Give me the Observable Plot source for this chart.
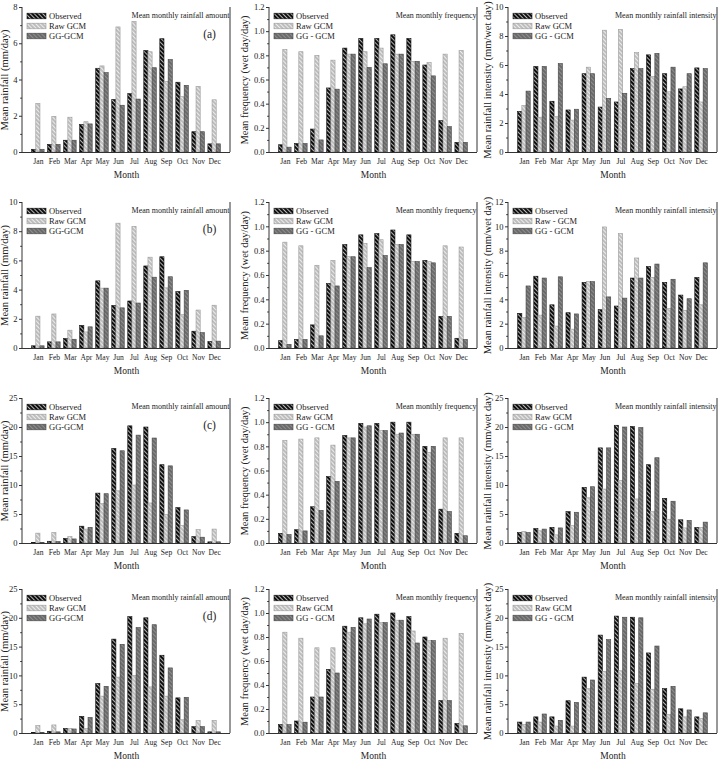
<!DOCTYPE html>
<html>
<head>
<meta charset="utf-8">
<script src="https://cdn.jsdelivr.net/npm/d3@7"></script>
<script src="https://cdn.jsdelivr.net/npm/@observablehq/plot@0.6"></script>
<style>
  body { margin: 0; background: #fff; }
  #grid { display: grid; grid-template-columns: 240px 240px 240px; width: 720px; }
  #grid svg { display: block; font-family: "Liberation Serif", "Times New Roman", serif; color: #222; }
</style>
</head>
<body>
<!-- shared hatch fills for the three series -->
<svg width="0" height="0" style="position:absolute">
  <defs>
    <pattern id="hatch-obs" width="3" height="3" patternUnits="userSpaceOnUse" patternTransform="rotate(45)">
      <rect width="3" height="3" fill="#0e0e0e"></rect>
      <rect width="3" height="1" fill="#b5b5b5"></rect>
    </pattern>
    <pattern id="hatch-raw" width="3" height="3" patternUnits="userSpaceOnUse" patternTransform="rotate(45)">
      <rect width="3" height="3" fill="#bdbdbd"></rect>
      <rect width="3" height="1" fill="#ececec"></rect>
    </pattern>
    <pattern id="hatch-gg" width="3" height="3" patternUnits="userSpaceOnUse" patternTransform="rotate(45)">
      <rect width="3" height="3" fill="#6a6a6a"></rect>
      <rect width="3" height="1" fill="#8e8e8e"></rect>
    </pattern>
  </defs>
</svg>
<div id="grid"></div>
<script>
const months = ["Jan", "Feb", "Mar", "Apr", "May", "Jun", "Jul", "Aug", "Sep", "Oct", "Nov", "Dec"];

// (a) station 1, calibration
const amountA_obs = [0.15, 0.42, 0.65, 1.52, 4.62, 2.9, 3.22, 5.6, 6.25, 3.85, 1.12, 0.45];
const amountA_raw = [2.68, 1.97, 1.92, 1.67, 4.75, 6.9, 7.2, 5.53, 3.9, 3.05, 3.62, 2.88];
const amountA_gg  = [0.15, 0.42, 0.65, 1.55, 4.38, 2.58, 2.92, 4.65, 5.1, 3.68, 1.12, 0.45];
const freqA_obs = [0.06, 0.07, 0.19, 0.53, 0.86, 0.94, 0.94, 0.97, 0.94, 0.72, 0.26, 0.08];
const freqA_raw = [0.85, 0.83, 0.80, 0.76, 0.81, 0.83, 0.86, 0.81, 0.75, 0.74, 0.81, 0.84];
const freqA_gg  = [0.04, 0.07, 0.10, 0.52, 0.81, 0.70, 0.73, 0.81, 0.75, 0.63, 0.21, 0.08];
const intenA_obs = [2.8, 5.9, 3.5, 2.9, 5.4, 3.1, 3.45, 5.75, 6.7, 5.4, 4.35, 5.8];
const intenA_raw = [3.2, 2.4, 2.45, 2.2, 5.85, 8.4, 8.45, 6.85, 5.2, 4.15, 4.5, 3.45];
const intenA_gg  = [4.2, 5.9, 6.1, 2.95, 5.4, 3.7, 4.05, 5.75, 6.8, 5.85, 5.4, 5.75];

// (b) station 1, validation
const amountB_obs = [0.15, 0.42, 0.65, 1.55, 4.6, 2.92, 3.22, 5.62, 6.25, 3.87, 1.15, 0.45];
const amountB_raw = [2.18, 2.33, 1.22, 1.1, 4.1, 8.55, 8.33, 6.22, 4.12, 2.28, 2.6, 2.93];
const amountB_gg  = [0.15, 0.42, 0.6, 1.45, 4.1, 2.75, 3.08, 4.85, 4.88, 3.95, 1.05, 0.47];
const freqB_obs = [0.06, 0.07, 0.19, 0.53, 0.85, 0.93, 0.94, 0.97, 0.93, 0.72, 0.26, 0.08];
const freqB_raw = [0.87, 0.84, 0.68, 0.72, 0.75, 0.86, 0.89, 0.85, 0.71, 0.71, 0.84, 0.83];
const freqB_gg  = [0.03, 0.07, 0.10, 0.51, 0.75, 0.66, 0.76, 0.85, 0.71, 0.70, 0.26, 0.07];
const intenB_obs = [2.85, 5.9, 3.55, 2.9, 5.4, 3.15, 3.45, 5.75, 6.7, 5.4, 4.35, 5.8];
const intenB_raw = [2.5, 2.7, 1.8, 1.55, 5.45, 9.95, 9.4, 7.4, 5.8, 3.25, 3.1, 3.55];
const intenB_gg  = [5.1, 5.75, 5.85, 2.8, 5.45, 4.2, 4.1, 5.75, 6.9, 5.65, 4.05, 7.0];

// (c) station 2, calibration
const amountC_obs = [0.1, 0.3, 0.8, 2.9, 8.6, 16.3, 20.2, 20.0, 13.5, 6.1, 1.1, 0.2];
const amountC_raw = [1.7, 1.8, 1.1, 2.4, 6.8, 9.0, 10.0, 6.9, 4.9, 3.0, 2.3, 2.4];
const amountC_gg  = [0.1, 0.25, 0.7, 2.7, 8.5, 15.9, 18.6, 18.1, 13.3, 5.7, 1.0, 0.2];
const freqC_obs = [0.08, 0.11, 0.30, 0.55, 0.89, 0.99, 0.99, 1.0, 1.0, 0.80, 0.28, 0.08];
const freqC_raw = [0.85, 0.86, 0.87, 0.81, 0.87, 0.96, 0.93, 0.90, 0.90, 0.75, 0.87, 0.87];
const freqC_gg  = [0.07, 0.10, 0.27, 0.51, 0.87, 0.97, 0.93, 0.91, 0.90, 0.80, 0.26, 0.06];
const intenC_obs = [1.8, 2.5, 2.7, 5.4, 9.6, 16.4, 20.3, 20.1, 13.5, 7.7, 4.0, 2.7];
const intenC_raw = [2.0, 2.1, 1.4, 3.0, 7.8, 9.3, 10.8, 7.6, 5.4, 4.1, 2.6, 2.7];
const intenC_gg  = [1.8, 2.4, 2.6, 5.3, 9.7, 16.4, 20.0, 19.9, 14.7, 7.2, 3.9, 3.6];

// (d) station 2, validation
const amountD_obs = [0.1, 0.3, 0.8, 2.9, 8.6, 16.3, 20.2, 20.0, 13.5, 6.1, 1.1, 0.2];
const amountD_raw = [1.3, 1.4, 0.8, 0.8, 6.4, 9.7, 10.0, 8.0, 6.4, 2.3, 2.2, 2.2];
const amountD_gg  = [0.1, 0.2, 0.7, 2.7, 8.1, 15.4, 18.3, 18.8, 11.3, 6.2, 1.1, 0.2];
const freqD_obs = [0.07, 0.10, 0.30, 0.53, 0.89, 0.96, 0.99, 1.0, 0.97, 0.80, 0.27, 0.08];
const freqD_raw = [0.84, 0.79, 0.71, 0.71, 0.84, 0.91, 0.92, 0.94, 0.85, 0.77, 0.79, 0.83];
const freqD_gg  = [0.07, 0.09, 0.30, 0.50, 0.88, 0.95, 0.92, 0.94, 0.75, 0.77, 0.27, 0.06];
const intenD_obs = [1.9, 2.8, 2.8, 5.6, 9.7, 17.0, 20.3, 20.1, 13.9, 7.7, 4.2, 2.8];
const intenD_raw = [1.5, 1.9, 1.2, 1.2, 7.7, 10.7, 10.8, 8.6, 7.6, 3.2, 2.8, 2.5];
const intenD_gg  = [1.9, 3.3, 2.2, 5.3, 9.2, 16.2, 20.1, 20.0, 15.1, 8.1, 4.0, 3.5];

// axis extents and labels
const amountMax = [8, 10, 25, 25];
const amountStep = [2, 2, 5, 5];
const intenMax = [10, 12, 25, 25];
const intenStep = [2, 2, 5, 5];
const panelTags = ["(a)", "(b)", "(c)", "(d)"];
const legendAmount = ["Observed", "Raw GCM", "GG-GCM"];
const legendFreq = ["Observed", "Raw GCM", "GG - GCM"];
const legendInten = [
  ["Observed", "Raw GCM", "GG - GCM"],
  ["Observed", "Raw - GCM", "GG - GCM"],
  ["Observed", "Raw GCM", "GG - GCM"],
  ["Observed", "Raw GCM", "GG - GCM"]
];

const series = {
  amount: [[amountA_obs, amountA_raw, amountA_gg], [amountB_obs, amountB_raw, amountB_gg], [amountC_obs, amountC_raw, amountC_gg], [amountD_obs, amountD_raw, amountD_gg]],
  freq: [[freqA_obs, freqA_raw, freqA_gg], [freqB_obs, freqB_raw, freqB_gg], [freqC_obs, freqC_raw, freqC_gg], [freqD_obs, freqD_raw, freqD_gg]],
  inten: [[intenA_obs, intenA_raw, intenA_gg], [intenB_obs, intenB_raw, intenB_gg], [intenC_obs, intenC_raw, intenC_gg], [intenD_obs, intenD_raw, intenD_gg]]
};

const fills = ["url(#hatch-obs)", "url(#hatch-raw)", "url(#hatch-gg)"];
const strokes = ["#111", "#9a9a9a", "#444"];

// layout per row and per column
const rowHeight = [195, 196, 191, 180];
const rowBottom = [43, 43, 39, 29];
const colLeft = [22, 29, 28];
const colRight = [10, 3, 3];
const colLabelDx = [-17.5, -25, -21];
const W = 240, mT = 7;
const padIn = 0.22, padOut = 0.6;

function panel({values, yMax, yStep, fmt, yLabel, title, legend, tag, height, marginBottom, col}) {
  const mL = colLeft[col], mR = colRight[col];
  const plotW = W - mL - mR;
  const step = plotW / (months.length - padIn + 2 * padOut);
  const third = step * (1 - padIn) / 3;
  const rows = values.flatMap((arr, s) => arr.map((v, i) => ({month: months[i], s, value: v})));
  const major = d3.range(0, yMax + 1e-9, yStep);
  const minor = d3.range(yStep / 2, yMax, yStep);
  const chart = Plot.plot({
    width: W, height,
    marginLeft: mL, marginRight: mR, marginTop: mT, marginBottom,
    style: {fontFamily: '"Liberation Serif", "Times New Roman", serif', color: "#222", background: "#fff"},
    x: {type: "band", domain: months, paddingInner: padIn, paddingOuter: padOut, round: false, label: null},
    y: {domain: [0, yMax], label: null},
    marks: [
      ...[0, 1, 2].map(s => Plot.barY(rows.filter(d => d.s === s), {
        x: "month", y: "value", fill: fills[s], stroke: strokes[s], strokeWidth: 0.6,
        insetLeft: s * third, insetRight: (2 - s) * third
      })),
      Plot.ruleY([0], {stroke: "#333", strokeWidth: 1}),
      Plot.axisX({tickSize: 0, tickPadding: 6, fontSize: 7.6, label: null}),
      Plot.axisY({ticks: major, tickFormat: fmt, tickSize: 3, tickPadding: 2, fontSize: 8.5, label: null, stroke: "#333"}),
      Plot.axisY({ticks: minor, tickSize: 1.8, tickFormat: () => "", label: null, stroke: "#333"}),
      Plot.text([yLabel], {frameAnchor: "left", textAnchor: "middle", lineAnchor: "middle", rotate: -90, dx: colLabelDx[col], fontSize: 10.5, fill: "#222"}),
      Plot.text(["Month"], {frameAnchor: "bottom", textAnchor: "middle", lineAnchor: "middle", dy: 22, fontSize: 9.5, fill: "#222"}),
      Plot.text([title], {frameAnchor: "top-right", textAnchor: "end", lineAnchor: "middle", dx: -1, dy: 8, fontSize: 8, fill: "#222"}),
      ...(tag ? [Plot.text([tag], {frameAnchor: "top-right", textAnchor: "middle", lineAnchor: "middle", dx: -21, dy: 27, fontSize: 11.5, fill: "#222"})] : [])
    ]
  });
  // frame lines on left and right, and the legend in the upper left
  const svg = d3.select(chart);
  const bottom = height - marginBottom;
  const g = svg.append("g").attr("stroke", "#333").attr("stroke-width", 1);
  g.append("line").attr("x1", mL).attr("x2", mL).attr("y1", mT).attr("y2", bottom);
  g.append("line").attr("x1", W - mR).attr("x2", W - mR).attr("y1", mT).attr("y2", bottom);
  const lg = svg.append("g").attr("font-size", 8.5).attr("fill", "#222").attr("text-anchor", "start");
  legend.forEach((name, s) => {
    const cy = mT + 9 + s * 10;
    lg.append("rect").attr("x", mL + 5).attr("y", cy - 2.8).attr("width", 19).attr("height", 5.6)
      .attr("fill", fills[s]).attr("stroke", strokes[s]).attr("stroke-width", 0.6);
    lg.append("text").attr("x", mL + 27).attr("y", cy).attr("dy", "0.33em").attr("text-anchor", "start").text(name);
  });
  return chart;
}

const grid = document.getElementById("grid");
for (let r = 0; r < 4; r++) {
  grid.appendChild(panel({
    values: series.amount[r], yMax: amountMax[r], yStep: amountStep[r], fmt: d3.format("d"),
    yLabel: "Mean rainfall (mm/day)", title: "Mean monthly rainfall amount",
    legend: legendAmount, tag: panelTags[r], height: rowHeight[r], marginBottom: rowBottom[r], col: 0
  }));
  grid.appendChild(panel({
    values: series.freq[r], yMax: 1.2, yStep: 0.2, fmt: d3.format(".1f"),
    yLabel: "Mean frequency (wet day/day)", title: "Mean monthly frequency",
    legend: legendFreq, tag: null, height: rowHeight[r], marginBottom: rowBottom[r], col: 1
  }));
  grid.appendChild(panel({
    values: series.inten[r], yMax: intenMax[r], yStep: intenStep[r], fmt: d3.format("d"),
    yLabel: "Mean rainfall intensity (mm/wet day)", title: "Mean monthly rainfall intensity",
    legend: legendInten[r], tag: null, height: rowHeight[r], marginBottom: rowBottom[r], col: 2
  }));
}
</script>
</body>
</html>
